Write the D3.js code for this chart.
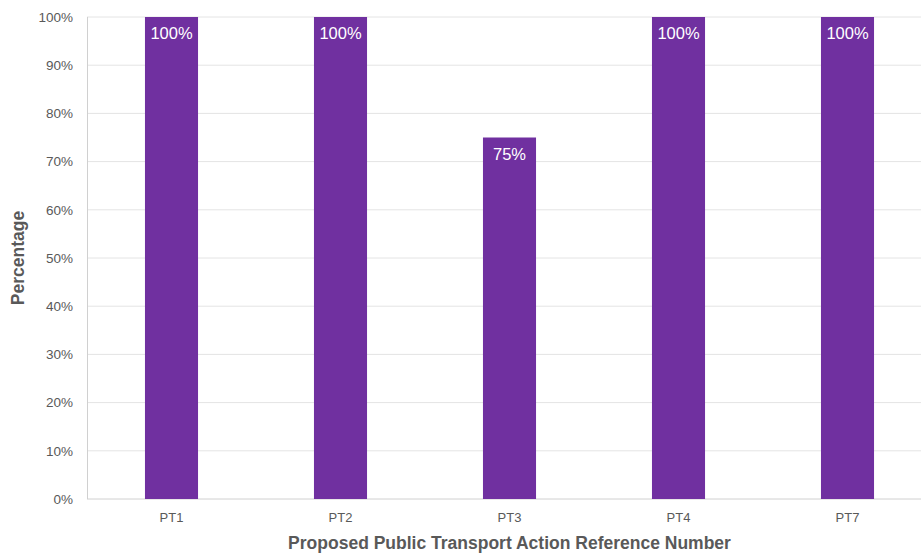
<!DOCTYPE html>
<html><head><meta charset="utf-8">
<script src="https://cdn.jsdelivr.net/npm/d3@7"></script>
<style>body{margin:0;background:#fff;}svg{display:block;font-family:"Liberation Sans",Arial,sans-serif;}</style>
</head><body><svg id="c" width="921" height="554"></svg>
<script>
const categories = ["PT1","PT2","PT3","PT4","PT7"];
const values = [100,100,75,100,100];
const yTicks = [0,10,20,30,40,50,60,70,80,90,100];

(function(){
const svg = d3.select("#c");
const mLeft = 87, mRight = 932, mTop = 17, mBottom = 499;
const x = d3.scaleBand().domain(categories).range([mLeft,mRight]).paddingInner(0.686).paddingOuter(0.343);
const y = d3.scaleLinear().domain([0,100]).range([mBottom,mTop]);

// gridlines
svg.append("g").selectAll("line").data(yTicks).join("line")
  .attr("x1",mLeft).attr("x2",921).attr("y1",d=>y(d)).attr("y2",d=>y(d))
  .attr("stroke",d=>d===0?"#d0d0d0":"#e4e4e4").attr("stroke-width",1);
// y axis line
svg.append("line").attr("x1",mLeft+0.5).attr("x2",mLeft+0.5).attr("y1",mTop).attr("y2",mBottom)
  .attr("stroke","#d0d0d0");

// y tick labels
const yAxis = d3.axisLeft(y).tickValues(yTicks).tickFormat(d=>d+"%").tickSize(0).tickPadding(14);
const ya = svg.append("g").attr("transform",`translate(${mLeft},0)`).call(yAxis);
ya.select(".domain").remove();
ya.selectAll("text").attr("fill","#595959").style("font-size","13.5px").style("font-family","'Liberation Sans',Arial,sans-serif");

// x axis labels
const xAxis = d3.axisBottom(x).tickSize(0).tickPadding(14);
const xa = svg.append("g").attr("transform",`translate(0,${mBottom})`).call(xAxis);
xa.select(".domain").remove();
xa.selectAll("text").attr("fill","#595959").style("font-size","13px").style("font-family","'Liberation Sans',Arial,sans-serif");

// bars
svg.append("g").selectAll("rect").data(values).join("rect")
  .attr("x",(d,i)=>x(categories[i])).attr("width",x.bandwidth())
  .attr("y",d=>y(d)).attr("height",d=>mBottom-y(d)).attr("fill","#7030A0");

// labels
svg.append("g").selectAll("text").data(values).join("text")
  .attr("x",(d,i)=>x(categories[i])+x.bandwidth()/2).attr("y",d=>y(d)+22)
  .attr("text-anchor","middle").attr("fill","#fff").style("font-size","16.5px")
  .text(d=>d+"%");

// axis titles
svg.append("text").attr("x",(mLeft+mRight)/2).attr("y",549).attr("text-anchor","middle")
  .attr("fill","#595959").style("font-size","17.5px").style("font-weight","bold")
  .text("Proposed Public Transport Action Reference Number");
svg.append("text").attr("transform",`translate(24,${(mTop+mBottom)/2}) rotate(-90)`).attr("text-anchor","middle")
  .attr("fill","#595959").style("font-size","17.5px").style("font-weight","bold")
  .text("Percentage");
})();
</script></body></html>
